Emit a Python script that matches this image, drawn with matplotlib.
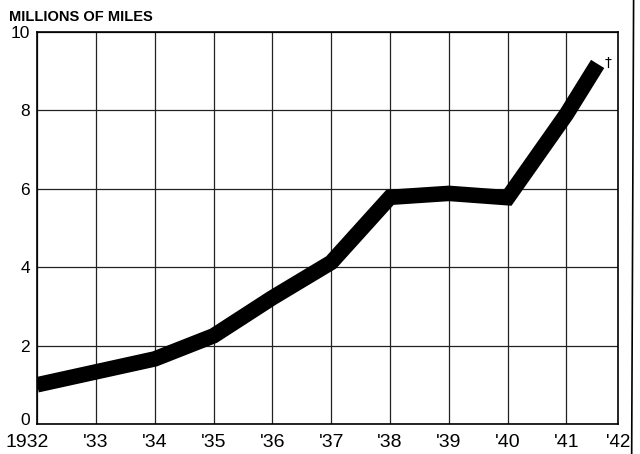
import matplotlib
matplotlib.use('Agg')
import matplotlib.pyplot as plt
import matplotlib.transforms as mtransforms
from matplotlib.lines import Line2D

# data
years = [1932, 1933, 1934, 1935, 1936, 1937, 1938, 1939, 1940, 1941, 1941.53]
miles = [1.0, 1.33, 1.66, 2.25, 3.22, 4.12, 5.78, 5.88, 5.77, 7.9, 9.18]
tick_years = [1932, 1933, 1934, 1935, 1936, 1937, 1938, 1939, 1940, 1941, 1942]
tick_labels = ['1932', "'33", "'34", "'35", "'36", "'37", "'38", "'39", "'40", "'41", "'42"]
y_ticks = [0, 2, 4, 6, 8, 10]

plt.rcParams['font.family'] = ['Liberation Sans Narrow', 'Liberation Sans', 'DejaVu Sans']

fig = plt.figure(figsize=(6.4, 4.54), dpi=100)
ax = fig.add_axes([0.058, 0.066, 0.908, 0.864])

ax.plot(years, miles, color='black', linewidth=11.2, solid_capstyle='butt',
        solid_joinstyle='miter', zorder=3)

ax.set_xlim(1932, 1941.88)
ax.set_ylim(0, 10)
ax.set_yticks(y_ticks)
ax.set_xticks(tick_years[:-1])
ax.set_xticklabels(tick_labels[:-1])
# last label sits just past the right edge of the grid
ax.annotate(tick_labels[-1], xy=(tick_years[-1] - 0.12, 0), xycoords='data',
            xytext=(0, -7), textcoords='offset points', ha='center', va='top',
            fontsize=13.5, annotation_clip=False)
ax.grid(True, color='#222222', linewidth=0.9)
ax.tick_params(length=0, labelsize=14, pad=7)
ax.tick_params(axis='y', labelsize=12.5, pad=5)
for s in ax.spines.values():
    s.set_linewidth(1.2)

# 1932 label hangs left of the first gridline, the 0 label rides a bit high
lab0 = ax.get_xticklabels()[0]
lab0.set_transform(lab0.get_transform() + mtransforms.ScaledTranslation(-0.1, 0, fig.dpi_scale_trans))
zero = ax.get_yticklabels()[0]
zero.set_transform(zero.get_transform() + mtransforms.ScaledTranslation(0, 0.05, fig.dpi_scale_trans))

# dagger mark at the end of the line
ax.text(1941.7, 9.2, '\u2020', fontsize=10, ha='center', va='center',
        family='DejaVu Sans')

fig.text(0.014, 0.962, 'MILLIONS OF MILES', fontsize=10.5, fontweight='bold',
         ha='left', va='center', family=['Liberation Sans', 'DejaVu Sans'])

# outer frame edge on the right
fig.add_artist(Line2D([0.99, 0.987], [1.0, 0.0], color='black', linewidth=1.2,
                      transform=fig.transFigure))

fig.savefig('out.png', dpi=100)
